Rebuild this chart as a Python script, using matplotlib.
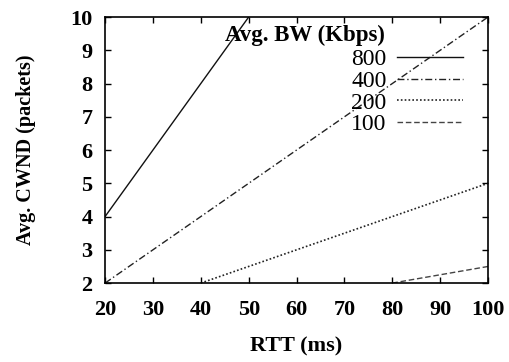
import matplotlib
matplotlib.use("Agg")
import matplotlib.pyplot as plt

# Average congestion window vs. RTT for several average bandwidths
bandwidths = ["800", "400", "200", "100"]
rtt_800 = [20, 50]
cwnd_800 = [4, 10]
rtt_400 = [20, 100]
cwnd_400 = [2, 10]
rtt_200 = [40, 100]
cwnd_200 = [2, 5]
rtt_100 = [80, 100]
cwnd_100 = [2, 2.5]

x_ticks = [20, 30, 40, 50, 60, 70, 80, 90, 100]
y_ticks = [2, 3, 4, 5, 6, 7, 8, 9, 10]

plt.rcParams["font.family"] = ["Liberation Serif", "DejaVu Serif"]

fig = plt.figure(figsize=(5.1, 3.62), dpi=100)
ax = fig.add_axes([0.206, 0.218, 0.751, 0.735])

styles = [
    dict(color="#111111", linestyle="-", linewidth=1.0),
    dict(color="#222222", linestyle=(0, (5, 2, 1, 2)), linewidth=1.0),
    dict(color="#222222", linestyle=(0, (1, 1.3)), linewidth=1.2),
    dict(color="#444444", linestyle=(0, (4, 2)), linewidth=1.0),
]
series = [(rtt_800, cwnd_800), (rtt_400, cwnd_400), (rtt_200, cwnd_200), (rtt_100, cwnd_100)]
for lab, (xs, ys), st in zip(bandwidths, series, styles):
    ax.plot(xs, ys, label=lab, **st)

ax.set_xlim(20, 100)
ax.set_ylim(2, 10)
ax.set_xticks(x_ticks)
ax.set_yticks(y_ticks)
ax.tick_params(direction="in", top=True, right=True, length=4, width=1.0)
ax.tick_params(axis="x", pad=12)
ax.tick_params(axis="y", pad=9)
for lbl in ax.get_xticklabels() + ax.get_yticklabels():
    lbl.set_fontsize(16)
    lbl.set_fontweight("bold")
for sp in ax.spines.values():
    sp.set_linewidth(1.2)

ax.set_xlabel("RTT (ms)", fontsize=16, fontweight="bold", labelpad=12)
ax.set_ylabel("Avg. CWND (packets)", fontsize=14.5, fontweight="bold", labelpad=25)

leg = ax.legend(loc="upper right", bbox_to_anchor=(0.935, 0.88),
                frameon=False, markerfirst=False, fontsize=17, handlelength=2.8,
                labelspacing=0.0, handletextpad=0.45, borderpad=0.0,
                borderaxespad=0.0)
for t in leg.get_texts():
    t.set_ha("right")

ax.text(0.731, 0.932, "Avg. BW (Kbps)", transform=ax.transAxes, ha="right",
        va="center", fontsize=16.5, fontweight="bold")

fig.savefig("out.png", dpi=100)
